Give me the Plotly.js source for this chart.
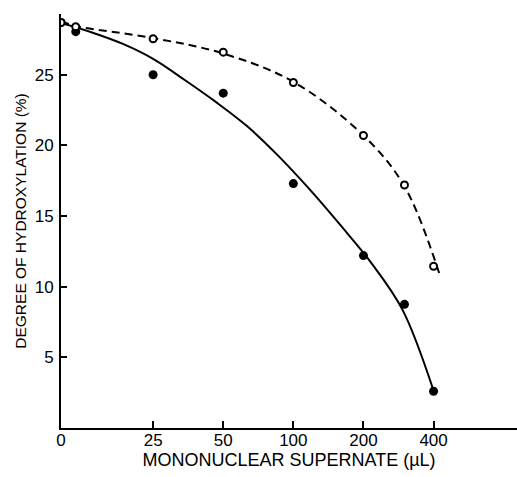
<!DOCTYPE html>
<html>
<head>
<meta charset="utf-8">
<script src="https://cdn.plot.ly/plotly-3.0.1.min.js"></script>
<style>html,body{margin:0;padding:0;background:#fff;}#chart{width:517px;height:477px;}</style>
</head>
<body>
<div id="chart"></div>
<script>
// Mononuclear supernate dose (µL) and measured degree of hydroxylation (%)
const doseUL = [0, 4, 25, 50, 100, 200, 300, 400];
const filledPct = [28.7, 28.05, 25.0, 23.7, 17.3, 12.2, 8.75, 2.6];
const openPct = [28.7, 28.4, 27.55, 26.6, 24.45, 20.7, 17.2, 11.45];

// Hand-drawn fit curves at sample points
const solidCurveDose = [0, 8.4, 16.8, 25.2, 34.3, 46.6, 63.4, 86.2, 117, 159, 216, 294, 400];
const solidCurvePct = [28.66, 27.99, 27.18, 26.09, 24.61, 23.06, 21.35, 19.26, 16.92, 14.37, 11.69, 8.38, 2.65];
const dashedCurveDose = [0, 4, 25, 50, 100, 200, 300, 424];
const dashedCurvePct = [28.8, 28.45, 27.6, 26.5, 24.5, 20.7, 17.1, 10.9];

const xTickDose = [0, 25, 50, 100, 200, 400];
const xTickText = ['0', '25', '50', '100', '200', '400'];
const yTickVals = [5, 10, 15, 20, 25];

// Axis scale of the original: linear from 0 to 25, then doubling steps (log2)
function doseScale(v) {
  return v >= 25 ? Math.log2(v / 25) : (v / 25 - 1) * 1.314;
}
const sx = a => a.map(doseScale);

const FONT = 'Liberation Sans, Arial, sans-serif';

const traces = [
  {x: sx(dashedCurveDose), y: dashedCurvePct, mode: 'lines', type: 'scatter',
   line: {color: '#000', width: 2, dash: '8px,5px', shape: 'spline', smoothing: 1}, hoverinfo: 'skip'},
  {x: sx(solidCurveDose), y: solidCurvePct, mode: 'lines', type: 'scatter',
   line: {color: '#000', width: 2, shape: 'spline', smoothing: 1}, hoverinfo: 'skip'},
  {x: sx(doseUL), y: filledPct, mode: 'markers', type: 'scatter',
   marker: {symbol: 'circle', size: 9, color: '#000', line: {width: 0}}},
  {x: sx(doseUL), y: openPct, mode: 'markers', type: 'scatter',
   marker: {symbol: 'circle', size: 7, color: '#fff', line: {width: 2, color: '#000'}}}
];

const layout = {
  width: 517, height: 477,
  margin: {l: 61, r: 0, t: 14, b: 49},
  paper_bgcolor: '#fff', plot_bgcolor: '#fff',
  showlegend: false,
  font: {family: FONT, size: 17, color: '#000'},
  xaxis: {
    range: [doseScale(0), 5.19],
    tickvals: sx(xTickDose), ticktext: xTickText,
    showline: true, linecolor: '#000', linewidth: 2,
    ticks: 'inside', ticklen: 7, tickwidth: 2, tickcolor: '#000',
    ticklabelstandoff: -4,
    showgrid: false, zeroline: false,
    tickfont: {family: FONT, size: 17, color: '#000'},
    title: {text: 'MONONUCLEAR SUPERNATE (µL)', font: {family: FONT, size: 18, color: '#000'}, standoff: 2}
  },
  yaxis: {
    range: [0, 29.3],
    tickvals: yTickVals,
    showline: true, linecolor: '#000', linewidth: 2,
    ticks: 'inside', ticklen: 6, tickwidth: 2, tickcolor: '#000',
    ticklabelstandoff: 2,
    showgrid: false, zeroline: false,
    tickfont: {family: FONT, size: 17, color: '#000'},
    title: {text: 'DEGREE OF HYDROXYLATION (%)', font: {family: FONT, size: 15.5, color: '#000'}, standoff: 4}
  }
};

Plotly.newPlot('chart', traces, layout, {displayModeBar: false, staticPlot: true});
</script>
</body>
</html>
